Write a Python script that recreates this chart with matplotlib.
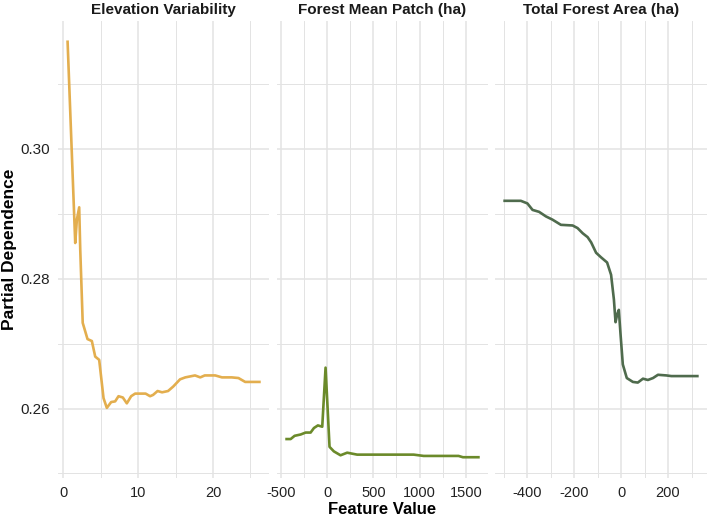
import matplotlib.pyplot as plt
from matplotlib.ticker import MultipleLocator

plt.rcParams['font.family'] = ['Liberation Sans', 'DejaVu Sans']

# Elevation Variability
elev_x = [0.58, 1.6, 1.82, 2.13, 2.27, 2.6, 3.24, 3.82, 4.27, 4.8, 5.38, 5.82, 6.4, 6.93,
          7.38, 7.96, 8.49, 9.07, 9.6, 11.0, 11.6, 12.0, 12.6, 13.2, 14.0, 14.7, 15.6,
          16.3, 17.6, 18.3, 18.9, 20.3, 21.2, 22.5, 23.4, 24.3, 26.2]
elev_y = [0.3165, 0.2855, 0.2891, 0.2910, 0.2845, 0.2732, 0.2707, 0.2704, 0.2680, 0.2675,
          0.2616, 0.2601, 0.2610, 0.2611, 0.2619, 0.2617, 0.2608, 0.2619, 0.2623, 0.2623,
          0.2619, 0.2621, 0.2627, 0.2625, 0.2627, 0.2634, 0.2645, 0.2648, 0.2651, 0.2648,
          0.2651, 0.2651, 0.2648, 0.2648, 0.2647, 0.2641, 0.2641]

# Forest Mean Patch (ha)
patch_x = [-440, -396, -353, -288, -234, -180, -144, -101, -54, -18, 25, 72, 144, 216,
           324, 936, 1044, 1422, 1469, 1637]
patch_y = [0.2553, 0.2553, 0.2558, 0.2560, 0.2563, 0.2563, 0.2570, 0.2574, 0.2572, 0.2663,
           0.2541, 0.2534, 0.2528, 0.2532, 0.2529, 0.2529, 0.2527, 0.2527, 0.2525, 0.2525]

# Total Forest Area (ha)
area_x = [-497, -428, -400, -378, -350, -321, -293, -257, -207, -186, -164, -143, -128,
          -107, -86, -60, -43, -31, -24, -17, -10, -3, 7, 24, 50, 71, 93, 114, 136, 157,
          193, 214, 325]
area_y = [0.2920, 0.2920, 0.2916, 0.2906, 0.2903, 0.2896, 0.2891, 0.2883, 0.2882, 0.2878,
          0.2870, 0.2864, 0.2856, 0.2840, 0.2833, 0.2825, 0.2806, 0.2768, 0.2733, 0.2745,
          0.2752, 0.2716, 0.2668, 0.2647, 0.2641, 0.2640, 0.2646, 0.2644, 0.2647, 0.2652,
          0.2651, 0.2650, 0.2650]

titles = ["Elevation Variability", "Forest Mean Patch (ha)", "Total Forest Area (ha)"]
colors = ["#E3AE4E", "#6B8A2A", "#4F6B4D"]
xs = [elev_x, patch_x, area_x]
ys = [elev_y, patch_y, area_y]
major_steps = [10, 500, 200]
y_ticks = [0.26, 0.28, 0.30]

W, H = 709, 518
fig = plt.figure(figsize=(W / 100, H / 100), dpi=100)
panel_px = [(58, 269), (277, 488), (495, 707)]
top, bottom = 21, 478

all_y = elev_y + patch_y + area_y
ylo, yhi = min(all_y), max(all_y)
ypad = (yhi - ylo) * 0.05

for i, (l, r) in enumerate(panel_px):
    ax = fig.add_axes([l / W, 1 - bottom / H, (r - l) / W, (bottom - top) / H])
    ax.plot(xs[i], ys[i], color=colors[i], lw=1.9, solid_joinstyle='round', zorder=3)
    xlo, xhi = min(xs[i]), max(xs[i])
    xpad = (xhi - xlo) * 0.05
    ax.set_xlim(xlo - xpad, xhi + xpad)
    ax.set_ylim(ylo - ypad, yhi + ypad)
    ax.xaxis.set_major_locator(MultipleLocator(major_steps[i]))
    ax.xaxis.set_minor_locator(MultipleLocator(major_steps[i] / 2))
    ax.set_yticks(y_ticks)
    ax.yaxis.set_minor_locator(MultipleLocator(0.01))
    ax.grid(which='major', color='#E3E3E3', lw=1.1)
    ax.grid(which='minor', color='#E3E3E3', lw=0.7)
    ax.set_axisbelow(True)
    for s in ax.spines.values():
        s.set_visible(False)
    ax.tick_params(which='both', length=0, labelsize=10.5, labelcolor='#222222', pad=6)
    if i > 0:
        ax.tick_params(axis='y', labelleft=False)
    else:
        ax.set_yticklabels([f"{v:.2f}" for v in y_ticks])
        ax.tick_params(axis='y', labelsize=11)
    ax.set_xticks(ax.get_xticks())
    ax.set_xticklabels([f"{int(v)}" for v in ax.get_xticks()])
    ax.set_xlim(xlo - xpad, xhi + xpad)
    ax.set_title(titles[i], fontsize=11, fontweight='bold', color='#1a1a1a', pad=5)
    if i == 1:
        ax.set_xlabel("Feature Value", fontsize=12, fontweight='bold', labelpad=1)

fig.text(10 / W, 1 - (top + bottom) / 2 / H, "Partial Dependence", rotation=90,
         ha='center', va='center', fontsize=12.5, fontweight='bold')

fig.savefig("out.png", dpi=100, facecolor='white')
